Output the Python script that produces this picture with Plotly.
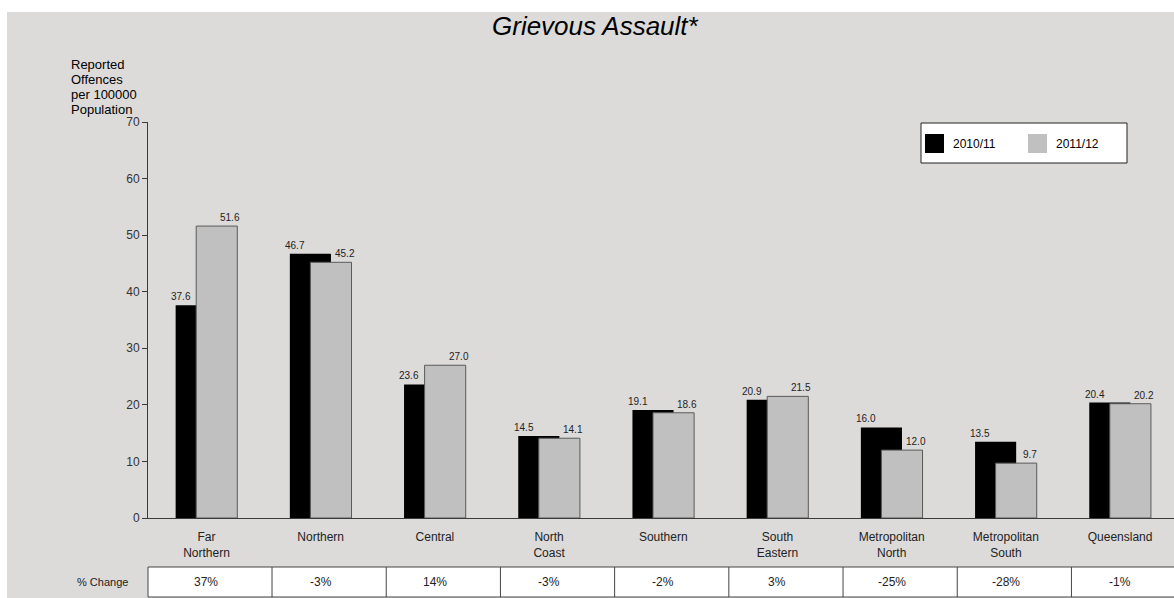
import plotly.graph_objects as go

# ---------------- data ----------------
categories = ["Far<br>Northern", "Northern", "Central", "North<br>Coast", "Southern",
              "South<br>Eastern", "Metropolitan<br>North", "Metropolitan<br>South", "Queensland"]
rate_2010_11 = [37.6, 46.7, 23.6, 14.5, 19.1, 20.9, 16.0, 13.5, 20.4]
rate_2011_12 = [51.6, 45.2, 27.0, 14.1, 18.6, 21.5, 12.0, 9.7, 20.2]
pct_change = ["37%", "-3%", "14%", "-3%", "-2%", "3%", "-25%", "-28%", "-1%"]
series_names = ["2010/11", "2011/12"]
y_ticks = [0, 10, 20, 30, 40, 50, 60, 70]
title_text = "Grievous Assault*"
y_title_lines = ["Reported", "Offences", "per 100000", "Population"]
row_label = "% Change"

# ---------------- layout helpers ----------------
W, H = 1174, 598
L, R, T, B = 148, 0, 122, 80
PW = W - L - R
PH = H - T - B


def px_x(px):
    return (px - L) / PW


def px_y(py):
    return (H - B - py) / PH


FONT = "Arial, Liberation Sans, sans-serif"
BG = "#DCDBDA"
GRAY = "#C0C0C0"
AXIS = "#3a3a3a"

fig = go.Figure()
fig.add_trace(go.Bar(
    x=categories, y=rate_2010_11, name=series_names[0],
    marker=dict(color="#000000", line=dict(width=0)),
    width=0.36, offset=-0.27, showlegend=False, hoverinfo="x+y+name",
))
fig.add_trace(go.Bar(
    x=categories, y=rate_2011_12, name=series_names[1],
    marker=dict(color=GRAY, line=dict(color="#5a5a5a", width=1)),
    width=0.36, offset=-0.09, showlegend=False, hoverinfo="x+y+name",
))

annotations = []
# value labels
for i, (a, b) in enumerate(zip(rate_2010_11, rate_2011_12)):
    annotations.append(dict(x=categories[i], y=a, xref="x", yref="y", text=f"{a:.1f}",
                            showarrow=False, xshift=-25.5, yanchor="bottom", yshift=1,
                            font=dict(family=FONT, size=10, color="#222")))
    annotations.append(dict(x=categories[i], y=b, xref="x", yref="y", text=f"{b:.1f}",
                            showarrow=False, xshift=24, yanchor="bottom", yshift=1,
                            font=dict(family=FONT, size=10, color="#222")))

# title
annotations.append(dict(x=px_x(595), y=px_y(26), xref="paper", yref="paper",
                        text=f"<i>{title_text}</i>", showarrow=False,
                        xanchor="center", yanchor="middle",
                        font=dict(family=FONT, size=26, color="#000")))

# y axis title lines
for k, line in enumerate(y_title_lines):
    annotations.append(dict(x=px_x(69), y=px_y(65 + 14.7 * k), xref="paper", yref="paper",
                            text=line, showarrow=False, xanchor="left", yanchor="middle",
                            font=dict(family=FONT, size=13, color="#000")))

shapes = []
# white page margins (top & left)
shapes.append(dict(type="rect", xref="paper", yref="paper", x0=px_x(0), x1=px_x(W),
                   y0=px_y(0), y1=px_y(12), fillcolor="white", line=dict(width=0), layer="below"))
shapes.append(dict(type="rect", xref="paper", yref="paper", x0=px_x(0), x1=px_x(7),
                   y0=px_y(0), y1=px_y(H), fillcolor="white", line=dict(width=0), layer="below"))

# legend (drawn manually)
shapes.append(dict(type="rect", xref="paper", yref="paper", x0=px_x(921), x1=px_x(1127),
                   y0=px_y(123), y1=px_y(163), fillcolor="white",
                   line=dict(color="#222", width=1)))
legend_cols = ["#000000", GRAY]
legend_x = [925, 1028]
for name, col, lx in zip(series_names, legend_cols, legend_x):
    shapes.append(dict(type="rect", xref="paper", yref="paper", x0=px_x(lx), x1=px_x(lx + 19),
                       y0=px_y(134), y1=px_y(153), fillcolor=col, line=dict(width=0)))
    annotations.append(dict(x=px_x(lx + 26), y=px_y(143.5), xref="paper", yref="paper",
                            text=name, showarrow=False, xanchor="left", yanchor="middle",
                            font=dict(family=FONT, size=12, color="#000")))

# % change table
t_top, t_bot = 567, 597
shapes.append(dict(type="rect", xref="paper", yref="paper", x0=px_x(148), x1=px_x(W + 5),
                   y0=px_y(t_top), y1=px_y(t_bot), fillcolor="white",
                   line=dict(color="#444", width=1)))
for i in range(len(categories) - 1):
    shapes.append(dict(type="line", xref="x", yref="paper", x0=i + 0.574, x1=i + 0.574,
                       y0=px_y(t_top), y1=px_y(t_bot), line=dict(color="#444", width=1)))
for i, p in enumerate(pct_change):
    annotations.append(dict(x=categories[i], y=px_y(582), xref="x", yref="paper", text=p,
                            showarrow=False, xanchor="center", yanchor="middle",
                            font=dict(family=FONT, size=12, color="#222")))
annotations.append(dict(x=px_x(130), y=px_y(582), xref="paper", yref="paper", text=row_label,
                        showarrow=False, xanchor="right", yanchor="middle",
                        font=dict(family=FONT, size=11, color="#222")))

fig.update_layout(
    width=W, height=H,
    margin=dict(l=L, r=R, t=T, b=B, pad=0),
    paper_bgcolor=BG, plot_bgcolor=BG,
    barmode="overlay",
    showlegend=False,
    font=dict(family=FONT, size=12, color="#222"),
    xaxis=dict(type="category", range=[-0.512, 8.472], showgrid=False, zeroline=False,
               showline=True, linecolor=AXIS, linewidth=1, ticks="",
               tickfont=dict(family=FONT, size=12, color="#222"), ticklabelstandoff=8,
               fixedrange=True),
    yaxis=dict(range=[0, 70], tickvals=y_ticks, showgrid=False, zeroline=False,
               showline=True, linecolor=AXIS, linewidth=1, ticks="outside", ticklen=5,
               tickcolor=AXIS, tickfont=dict(family=FONT, size=12, color="#333"),
               fixedrange=True),
    annotations=annotations,
    shapes=shapes,
)

fig.write_html(
    "out.html",
    config={"displayModeBar": False},
    post_script="document.body.style.margin='0';document.body.style.padding='0';"
                "document.body.style.overflow='hidden';",
)
